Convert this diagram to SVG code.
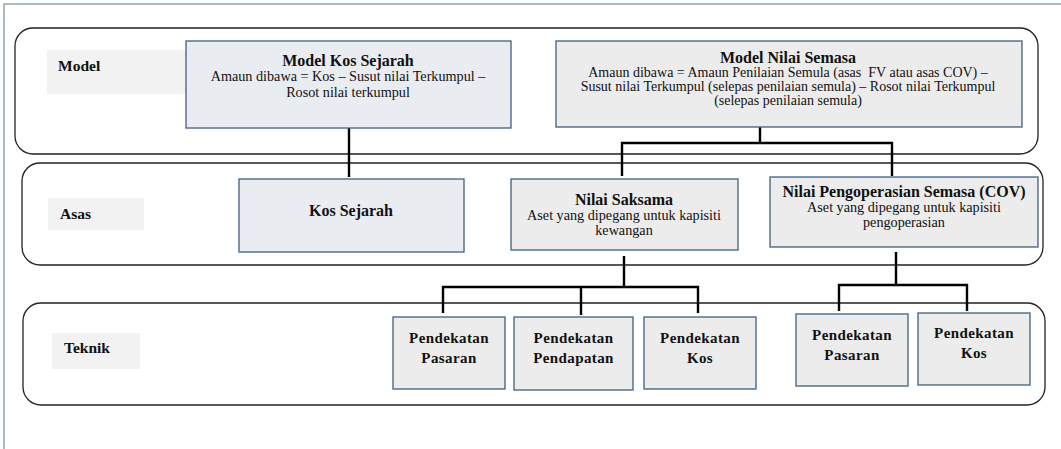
<svg xmlns="http://www.w3.org/2000/svg" width="1061" height="449" viewBox="0 0 1061 449">
<style>
text{font-family:"Liberation Serif","Times New Roman",serif;fill:#111;}
.t{font-weight:bold;font-size:16px;text-anchor:middle;}
.b{font-size:14.2px;text-anchor:middle;}
.b2{font-size:14px;text-anchor:middle;}
.lab{font-weight:bold;font-size:15.5px;}
.tk{font-weight:bold;font-size:15px;text-anchor:middle;letter-spacing:0.4px;}
.band{fill:#fff;stroke:#222;stroke-width:1.3;}
.lbox{fill:#f2f2f2;stroke:none;}
.nb{fill:#e9edf2;stroke:#41607f;stroke-width:1.3;}
.ng{fill:#ececec;stroke:#41607f;stroke-width:1.3;}
.con{fill:none;stroke:#000;stroke-width:2.4;}
</style>
<rect x="0" y="0" width="1061" height="449" fill="#fff"/>
<rect x="4" y="4" width="1100" height="500" fill="none" stroke="#5b7896" stroke-width="1"/>
<g id="band-model"><rect class="band" x="15" y="28" width="1023" height="126" rx="18"/><rect class="lbox" x="47" y="50" width="139" height="44"/><text class="lab" x="58" y="71">Model</text></g>
<g id="band-asas"><rect class="band" x="22" y="163" width="1021" height="102" rx="18"/><rect class="lbox" x="48" y="198" width="96" height="32"/><text class="lab" x="60" y="219">Asas</text></g>
<g id="band-teknik"><rect class="band" x="23" y="303" width="1022" height="102" rx="18"/><rect class="lbox" x="52" y="333" width="88" height="36"/><text class="lab" x="64" y="353">Teknik</text></g>
<g id="connectors">
<path class="con" d="M349 128V177"/>
<path class="con" d="M760 127V143M622 176V143H892V176"/>
<path class="con" d="M624 256V287M443 313V287H698V313M581 287V315"/>
<path class="con" d="M896 252V285M839 311V285H967V311"/>
</g>
<g id="model-kos-sejarah"><rect class="nb" x="186" y="41" width="325" height="87"/><text class="t" x="348" y="66">Model Kos Sejarah</text><text class="b" x="348" y="81">Amaun dibawa = Kos – Susut nilai Terkumpul –</text><text class="b" x="348" y="97">Rosot nilai terkumpul</text></g>
<g id="model-nilai-semasa"><rect class="ng" x="556" y="41" width="466" height="86"/><text class="t" x="788" y="63">Model Nilai Semasa</text><text class="b2" x="788" y="77" xml:space="preserve">Amaun dibawa = Amaun Penilaian Semula (asas  FV atau asas COV) –</text><text class="b2" x="788" y="91">Susut nilai Terkumpul (selepas penilaian semula) – Rosot nilai Terkumpul</text><text class="b2" x="788" y="105">(selepas penilaian semula)</text></g>
<g id="kos-sejarah"><rect class="nb" x="239" y="179" width="225" height="73"/><text class="t" x="351" y="216">Kos Sejarah</text></g>
<g id="nilai-saksama"><rect class="ng" x="511" y="179" width="227" height="71"/><text class="t" x="624" y="205">Nilai Saksama</text><text class="b" x="624" y="220">Aset yang dipegang untuk kapisiti</text><text class="b" x="624" y="235">kewangan</text></g>
<g id="nilai-cov"><rect class="ng" x="770" y="177" width="268" height="70"/><text class="t" x="904" y="197">Nilai Pengoperasian Semasa (COV)</text><text class="b" x="904" y="212">Aset yang dipegang untuk kapisiti</text><text class="b" x="904" y="227">pengoperasian</text></g>
<g id="fv-pasaran"><rect class="ng" x="393" y="317" width="112" height="72"/><text class="tk" x="449" y="343">Pendekatan</text><text class="tk" x="449" y="363">Pasaran</text></g>
<g id="fv-pendapatan"><rect class="ng" x="514" y="317" width="119" height="73"/><text class="tk" x="573.5" y="343">Pendekatan</text><text class="tk" x="573.5" y="363">Pendapatan</text></g>
<g id="fv-kos"><rect class="ng" x="644" y="317" width="112" height="72"/><text class="tk" x="700" y="343">Pendekatan</text><text class="tk" x="700" y="363">Kos</text></g>
<g id="cov-pasaran"><rect class="ng" x="796" y="314" width="112" height="72"/><text class="tk" x="852" y="340">Pendekatan</text><text class="tk" x="852" y="360">Pasaran</text></g>
<g id="cov-kos"><rect class="ng" x="918" y="313" width="112" height="72"/><text class="tk" x="974" y="338">Pendekatan</text><text class="tk" x="974" y="358">Kos</text></g>
</svg>
